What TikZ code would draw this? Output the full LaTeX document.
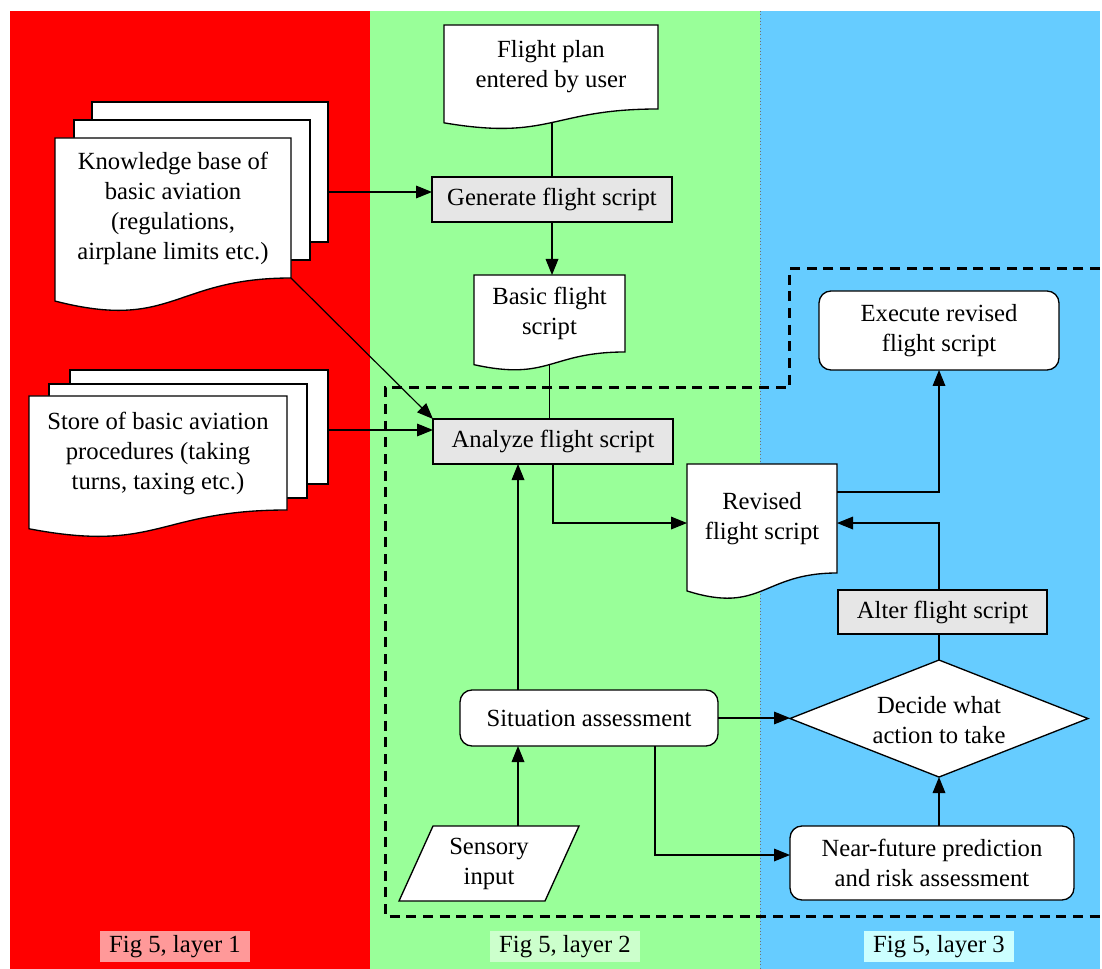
\documentclass[tikz,border=0pt]{standalone}
\usepackage{fontspec}
\setmainfont{Liberation Serif}
\usetikzlibrary{arrows.meta,calc}

\definecolor{layerred}{RGB}{255,0,0}
\definecolor{layergreen}{RGB}{153,255,153}
\definecolor{layerblue}{RGB}{102,204,255}
\definecolor{tagred}{RGB}{255,153,153}
\definecolor{taggreen}{RGB}{204,255,204}
\definecolor{tagblue}{RGB}{204,255,255}
\definecolor{procgray}{RGB}{230,230,230}

\pgfdeclarelayer{panels}
\pgfdeclarelayer{hidden}
\pgfdeclarelayer{sheets}
\pgfsetlayers{panels,hidden,sheets,main}

% one drawing unit = one pixel of the 1102 x 969 canvas
\def\pxu{0.75pt}

\tikzset{
  lbl/.style={font=\fontsize{18.5}{22.5}\selectfont, align=center, inner sep=0pt, outer sep=0pt},
  sized/.style 2 args={minimum width=#1*\pxu, minimum height=#2*\pxu},
  proc/.style={lbl, draw, line width=1pt, fill=procgray},
  rbox/.style={lbl, draw, line width=1pt, fill=white, rounded corners=9pt},
  sheet/.style={draw, line width=1pt, fill=white},
  conn/.style={line width=0.9pt},
  arr/.style={conn, -{Triangle[length=12pt,width=9.5pt]}},
  tag/.style={lbl, minimum width=150*\pxu, minimum height=31*\pxu},
  zone/.style={line width=2.25pt, dash pattern=on 7.5pt off 5pt},
}

% document outline (wavy lower edge) around a named text node;
% the node covers the straight-sided part of the sheet
\newcommand\docsheet[1]{%
  \begin{pgfonlayer}{sheets}
    \draw[sheet] (#1.north west) -- (#1.north east) -- (#1.south east)
      .. controls (#1.south) and ($(#1.north)!1.38092!(#1.south)$)
      .. ($(#1.north west)!1.16459!(#1.south west)$) -- cycle;
  \end{pgfonlayer}}

\begin{document}
\begin{tikzpicture}[x=0.75pt,y=-0.75pt]
\useasboundingbox (0,0) rectangle (1102,969);

% layer panels
\begin{pgfonlayer}{panels}
  \fill[white] (0,0) rectangle (1102,969);
  \fill[layerred] (10,11) rectangle (370,969);
  \fill[layergreen] (370,11) rectangle (760,969);
  \fill[layerblue] (760,11) rectangle (1100,969);
  \draw[line width=0.5pt, dotted, black!55] (760,11) -- (760,969);
\end{pgfonlayer}

\node[tag, fill=tagred] (tag1) at (175,946.5) {Fig 5, layer 1};
\node[tag, fill=taggreen] (tag2) at (565,946.5) {Fig 5, layer 2};
\node[tag, fill=tagblue] (tag3) at (939,946.5) {Fig 5, layer 3};

% boundary of the reactive loop
\draw[zone] (1100,269) -- (789,269) -- (789,388) -- (385,388) -- (385,916) -- (1100,916);

% documents
\node[lbl, sized={214}{84}] (fp) at (551,67) {Flight plan\\entered by user};
\docsheet{fp}

\node[lbl, sized={236}{140}] (kb) at (173,208)
  {Knowledge base of\\basic aviation\\(regulations,\\airplane limits etc.)};
\begin{pgfonlayer}{sheets}
  \node[sheet, sized={236}{140}] (kb3) at (210,172) {};
  \node[sheet, sized={236}{140}] (kb2) at (192,190) {};
\end{pgfonlayer}
\docsheet{kb}

\node[lbl, sized={258}{114}] (st) at (158,453)
  {Store of basic aviation\\procedures (taking\\turns, taxing etc.)};
\begin{pgfonlayer}{sheets}
  \node[sheet, sized={258}{114}] (st3) at (199,427) {};
  \node[sheet, sized={258}{114}] (st2) at (178,441) {};
\end{pgfonlayer}
\docsheet{st}

\node[lbl, sized={151}{77}] (bfs) at (549.5,313.5) {Basic flight\\script};
\docsheet{bfs}

\node[lbl, sized={150}{109}] (rev) at (762,518.5) {Revised\\flight script};
\docsheet{rev}

% processes
\node[proc, sized={240}{45}] (gen) at (552,199.5) {Generate flight script};
\node[proc, sized={240}{45}] (an) at (553,441.5) {Analyze flight script};
\node[proc, sized={209}{44}] (alt) at (942.5,612) {Alter flight script};

\node[rbox, sized={240}{79}] (exe) at (939,330.5) {Execute revised\\flight script};
\node[rbox, sized={258}{56}] (sit) at (589,718) {Situation assessment};
\node[rbox, sized={284}{74}] (nfp) at (932,863) {Near-future prediction\\and risk assessment};

% decision
\node[lbl, sized={298}{117}] (dec) at (939,720) {Decide what\\action to take};
\begin{pgfonlayer}{sheets}
  \draw[sheet] ([yshift=1.1pt]dec.west) -- ([yshift=1.1pt]dec.north) -- ([yshift=1.1pt]dec.east)
    -- ([yshift=1.1pt]dec.south) -- cycle;
\end{pgfonlayer}

% sensor input (parallelogram)
\node[lbl, sized={146}{75}] (sen) at (489,863.5) {Sensory\\input};
\begin{pgfonlayer}{sheets}
  \draw[sheet] ([xshift=12.75pt]sen.north west) -- ([xshift=12.75pt]sen.north east)
    -- ([xshift=-12.75pt]sen.south east) -- ([xshift=-12.75pt]sen.south west) -- cycle;
\end{pgfonlayer}

% connectors leaving a document's lower edge run behind the sheet
\begin{pgfonlayer}{hidden}
  \draw[conn] (gen.north |- fp.south) -- (gen.north);
  \draw[conn] (bfs.south) -- (bfs.south |- an.north);
\end{pgfonlayer}

\draw[arr] ([yshift=-15pt]kb3.east) coordinate (k1) -- (k1 -| gen.west);
\draw[arr] (kb.south east) -- (an.north west);
\draw[arr] ([yshift=-2.25pt]st3.east) coordinate (s3) -- (s3 -| an.west);
\draw[arr] (gen.south) -- (gen.south |- bfs.north);
\draw[arr] (an.south) |- ([yshift=-3.4pt]rev.west);
\draw[arr] ([xshift=-53.25pt]sit.north) coordinate (s1) -- (s1 |- an.south);
\draw[arr] (s1 |- sen.north) -- (s1 |- sit.south);
\draw[arr] (sit.east) -- (sit.east -| dec.west);
\draw[arr] ([xshift=49.5pt]sit.south) |- ([yshift=6pt]nfp.west);
\draw[arr] (dec.south |- nfp.north) -- ([yshift=1.1pt]dec.south);
\draw[conn] ([yshift=1.1pt]dec.north) -- (dec.north |- alt.south);
\draw[arr] (dec.north |- alt.north) |- ([yshift=-3.4pt]rev.east);
\draw[arr] ([yshift=19.9pt]rev.east) -| (exe.south);

\end{tikzpicture}
\end{document}
